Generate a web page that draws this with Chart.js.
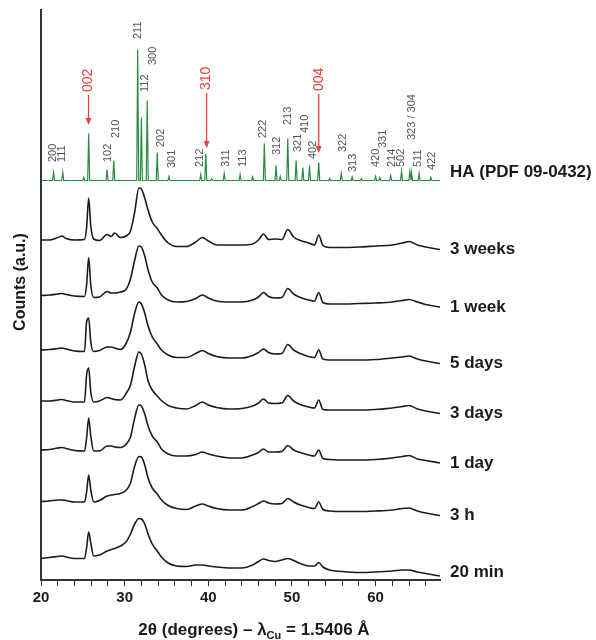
<!DOCTYPE html>
<html>
<head>
<meta charset="utf-8">
<script src="https://cdn.jsdelivr.net/npm/chart.js@4.4.1/dist/chart.umd.min.js"></script>
<style>
body{margin:0;background:#fff}
#wrap{width:596px;height:640px;position:relative}
</style>
</head>
<body>
<div id="wrap"><canvas id="xrd"></canvas></div>
<script>
// 2theta grid shared by all sample patterns
var theta = [20, 21, 22, 22.5, 23, 24, 25.2, 25.45, 25.7, 25.95, 26.3, 27, 27.9, 28.4, 28.8, 29.5,
  30.2, 30.7, 31.2, 31.7, 32.0, 32.4, 32.8, 33.3, 33.9, 34.4, 35.2, 36.2, 37.4, 38.5, 39.3,
  40.0, 41.0, 42.5, 44, 45.3, 46.0, 46.6, 47.2, 48.0, 48.8, 49.5, 50.2, 51.0, 52.0, 52.7,
  53.2, 53.7, 54.5, 56, 58, 60, 62, 63.2, 64.0, 65.0, 66.0, 67.7];

// intensities (a.u.)
var weeks3 = [10,10,12.5,14,11.5,10, 10.5,22,52,24,11, 9.5,15.5,13.5,17,12.5, 14,19,38,62,61,
  52,40,28,21.5,15, 7,3.5,3.5,8,12.5, 9,5,5,5,6, 10,16,10.5,11,10.5, 20.5,13,9.5,7,5,
  15,4.5,2.5,2.5,3, 4,5,7,8.5,5, 3,0.5];
var week1 = [11.5,12,13,13.5,12.5,11, 10.5,22,49.5,22,9.5, 10,15.5,14,14,15, 18,28,47,61,60,
  51,37,25,19,12, 7,5,5.5,8.5,12, 9,6,5,5,7, 10,14.5,10.5,9,9.5, 18.5,13,9.5,7,6,
  14.5,4.5,3,3,3.5, 4,5,6.5,7.5,5, 2.5,0];
var days5 = [14,14.5,15.5,16,15,13, 12.5,42,46,22,12.5, 13.5,17,17,16,14.5, 21,32,51,62,60,
  51,38,27,20,14, 9,6.5,6.5,10.5,13.5, 10.5,7.5,6,6,8.5, 11.5,15,11.5,10,10.5, 19.5,14,10.5,7.5,6.5,
  14,5,4,4,4, 4.5,6,7,8,5, 3,0.5];
var days3 = [13,13,14,14.5,13.5,12, 12,39,46,22,12, 13,16.5,15.5,14.5,14, 21,29,48,62,60,
  49,33,24,18,13.5, 8.5,6,5,8.5,12, 9,6.5,5,5.5,8, 11,15,11,10.5,11, 18.5,13,9.5,7,6,
  14,4.5,4,4,4, 4.5,6,7.5,8.5,5, 3,0.5];
var day1 = [13,13.5,15,15.5,14.5,12.5, 12,25,45,27,12, 12,17,17,16,15.5, 19,26,45,58,57,
  49,37,27,21,14, 9,7,7,8.5,11, 9,7,5,5,8, 10.5,14,11,11,11.5, 17.5,13,10.5,8,7,
  13,4.5,3.5,3,3, 3.5,5,6.5,7.5,4, 2.5,0];
var hours3 = [14.5,15,16,16,15.5,14, 14,24,41,26,14, 15.5,20,21,21.5,22.5, 26,33,50,59.5,59,
  51,38,28,22,16, 10.5,7.5,6.5,10,12, 10,7.5,6,6,9.5, 12.5,15,13,12,12.5, 17.5,14,11,8.5,7.5,
  14,6.5,5,4.5,4.5, 5,6,7.5,8,5, 3,0.5];
var min20 = [18.5,19.5,20.5,21,20,18.5, 18.5,29,45,34,21, 22,26,27.5,28.5,31, 35.5,43,53,58.5,58,
  53,43,33,26,20, 14,11,10.5,12,12, 11,10,9,9,12, 15.5,18,16.5,15.5,17, 18.5,16.5,13.5,11,11,
  14.5,10,7,5.5,4.5, 5,6,7,7,5, 3.5,1];

var sampleNames = ['3 weeks', '1 week', '5 days', '3 days', '1 day', '3 h', '20 min'];
var sampleData = [weeks3, week1, days5, days3, day1, hours3, min20];
var sampleOffsets = [330, 273, 216, 166, 117, 64, 3];

// HA reference pattern (PDF 09-0432)
var haName = 'HA (PDF 09-0432)';
var haOffset = 399.5;
var haPos = [21.5, 22.6, 25.1, 25.7, 27.9, 28.7, 31.56, 32.0, 32.7, 33.9, 35.3, 39.1, 39.7, 40.4,
  41.9, 43.8, 45.3, 46.7, 48.1, 48.6, 49.5, 50.5, 51.3, 52.1, 53.2, 54.5, 55.9, 57.2, 58.3,
  60.0, 60.5, 61.8, 63.1, 64.1, 64.3, 65.2, 66.6];
var haInt = [8, 8, 3, 47, 11, 20, 131, 63, 80, 28, 4, 6, 27, 2, 7, 6, 3.5, 37, 15, 4, 42, 20, 13,
  15, 18, 2, 7, 3.5, 2, 4, 3, 5, 9, 9, 8, 7, 3];

// hkl labels
var hklText = ['200','111','102','210','211','112','300','202','301','212','311','113','222','312',
  '213','321','410','402','322','313','420','331','214','502','323 / 304','511','422'];
var hklPos = [21.48, 22.56, 27.96, 28.96, 31.6, 32.48, 33.4, 34.29, 35.6, 39.0, 42.16, 44.17, 46.57,
  48.16, 49.48, 50.77, 51.61, 52.49, 56.09, 57.29, 60.1, 60.89, 61.9, 62.98, 64.3, 65.09, 66.7];
var hklBase = [418, 418, 418, 442, 541, 488, 515, 433, 412, 413, 413, 413, 442, 425, 455, 428, 447,
  421, 428, 408, 413, 432, 413, 413, 440, 413, 410];

// highlighted reflections
var arrowText = ['002', '310', '004'];
var arrowPos = [25.68, 39.8, 53.2];
var arrowFrom = [485, 487, 486];
var arrowTo = [455, 432, 427];

var xTicks = [20, 30, 40, 50, 60];

var datasets = [];
var haPts = [{x: 20, y: haOffset}];
for (var i = 0; i < haPos.length; i++) {
  haPts.push({x: haPos[i] - 0.12, y: haOffset});
  haPts.push({x: haPos[i], y: haOffset + haInt[i]});
  haPts.push({x: haPos[i] + 0.12, y: haOffset});
}
haPts.push({x: 67.7, y: haOffset});
datasets.push({label: haName, data: haPts, borderColor: '#2a8c43', borderWidth: 1.2,
  pointRadius: 0, tension: 0, fill: false});

for (var s = 0; s < sampleData.length; s++) {
  var pts = [];
  for (var j = 0; j < theta.length; j++) {
    pts.push({x: theta[j], y: sampleOffsets[s] + sampleData[s][j]});
  }
  datasets.push({label: sampleNames[s], data: pts, borderColor: '#1c1c1c', borderWidth: 1.6,
    pointRadius: 0, cubicInterpolationMode: 'monotone', fill: false});
}

var labelsPlugin = {
  id: 'xrdLabels',
  afterDatasetsDraw: function(chart) {
    var ctx = chart.ctx, xs = chart.scales.x, ys = chart.scales.y, area = chart.chartArea;
    var i, px, py;
    ctx.save();
    // hkl indices
    ctx.fillStyle = '#555';
    ctx.font = '11px "Liberation Sans"';
    ctx.textAlign = 'left';
    ctx.textBaseline = 'middle';
    for (i = 0; i < hklText.length; i++) {
      px = xs.getPixelForValue(hklPos[i]);
      py = ys.getPixelForValue(hklBase[i]);
      ctx.save(); ctx.translate(px, py); ctx.rotate(-Math.PI / 2);
      ctx.fillText(hklText[i], 0, 0);
      ctx.restore();
    }
    // red arrows
    ctx.fillStyle = '#e8403a';
    ctx.strokeStyle = '#e8403a';
    ctx.lineWidth = 1.3;
    ctx.font = '14px "Liberation Sans"';
    for (i = 0; i < arrowText.length; i++) {
      px = xs.getPixelForValue(arrowPos[i]);
      var y0 = ys.getPixelForValue(arrowFrom[i]);
      var y1 = ys.getPixelForValue(arrowTo[i]);
      ctx.save(); ctx.translate(px, y0 - 3); ctx.rotate(-Math.PI / 2);
      ctx.fillText(arrowText[i], 0, 0);
      ctx.restore();
      ctx.beginPath(); ctx.moveTo(px, y0); ctx.lineTo(px, y1 - 5); ctx.stroke();
      ctx.beginPath(); ctx.moveTo(px - 3, y1 - 7); ctx.lineTo(px + 3, y1 - 7); ctx.lineTo(px, y1);
      ctx.closePath(); ctx.fill();
    }
    // pattern names
    ctx.fillStyle = '#1a1a1a';
    ctx.font = 'bold 17px "Liberation Sans"';
    ctx.textAlign = 'left';
    ctx.textBaseline = 'middle';
    ctx.fillText(haName, area.right + 10, ys.getPixelForValue(haOffset) - 8);
    for (i = 0; i < sampleNames.length; i++) {
      var last = sampleOffsets[i] + sampleData[i][sampleData[i].length - 1];
      var nudge = i === sampleNames.length - 1 ? -4 : 0;
      ctx.fillText(sampleNames[i], area.right + 10, ys.getPixelForValue(last) + nudge);
    }
    // y title
    ctx.font = 'bold 16px "Liberation Sans"';
    ctx.textAlign = 'center';
    ctx.save(); ctx.translate(21, 282); ctx.rotate(-Math.PI / 2);
    ctx.fillText('Counts (a.u.)', 0, 0);
    ctx.restore();
    // x title with subscript
    var big = 'bold 17px "Liberation Sans"', small = 'bold 11px "Liberation Sans"';
    var p1 = '2θ (degrees) – λ', p2 = 'Cu', p3 = ' = 1.5406 Å';
    ctx.font = big; var w1 = ctx.measureText(p1).width, w3 = ctx.measureText(p3).width;
    ctx.font = small; var w2 = ctx.measureText(p2).width;
    var sx = 254 - (w1 + w2 + w3) / 2, base = 635;
    ctx.textAlign = 'left'; ctx.textBaseline = 'alphabetic';
    ctx.font = big; ctx.fillText(p1, sx, base);
    ctx.font = small; ctx.fillText(p2, sx + w1, base + 4);
    ctx.font = big; ctx.fillText(p3, sx + w1 + w2, base);
    ctx.restore();
  }
};

new Chart(document.getElementById('xrd'), {
  type: 'line',
  data: {datasets: datasets},
  options: {
    responsive: true,
    maintainAspectRatio: false,
    animation: false,
    layout: {padding: {left: 0, right: 156, top: 10, bottom: 0}},
    plugins: {legend: {display: false}, tooltip: {enabled: false}},
    scales: {
      x: {
        type: 'linear', min: 20, max: 67.7,
        afterFit: function(sc) { sc.height = 60; },
        border: {display: true, color: '#333', width: 2},
        grid: {drawOnChartArea: false, drawTicks: true, tickLength: 6, color: '#333', lineWidth: 1},
        ticks: {
          stepSize: 2, includeBounds: false, padding: 3, color: '#1a1a1a',
          font: {family: 'Liberation Sans', size: 15, weight: 'bold'},
          maxRotation: 0, autoSkip: false,
          callback: function(v) { return xTicks.indexOf(v) >= 0 ? String(v) : ''; }
        }
      },
      y: {
        min: 0, max: 570,
        afterFit: function(sc) { sc.width = 41; },
        border: {display: true, color: '#333', width: 2},
        grid: {display: false},
        ticks: {display: false}
      }
    }
  },
  plugins: [labelsPlugin]
});
</script>
</body>
</html>
